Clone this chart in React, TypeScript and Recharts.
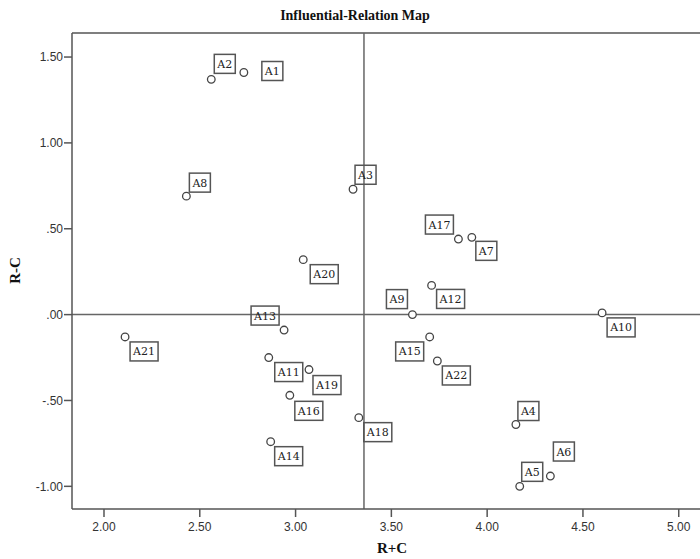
import React from 'react';
import { ScatterChart, Scatter, XAxis, YAxis, ReferenceLine } from 'recharts';

const names = ['A1','A2','A3','A4','A5','A6','A7','A8','A9','A10','A11','A12','A13','A14','A15','A16','A17','A18','A19','A20','A21','A22'];
const rPlusC = [2.73,2.56,3.30,4.15,4.17,4.33,3.92,2.43,3.61,4.60,2.86,3.71,2.94,2.87,3.70,2.97,3.85,3.33,3.07,3.04,2.11,3.74];
const rMinusC = [1.41,1.37,0.73,-0.64,-1.00,-0.94,0.45,0.69,0.00,0.01,-0.25,0.17,-0.09,-0.74,-0.13,-0.47,0.44,-0.60,-0.32,0.32,-0.13,-0.27];

const xTicks = [2, 2.5, 3, 3.5, 4, 4.5, 5];
const yTicks = [-1, -0.5, 0, 0.5, 1, 1.5];
const xDomain = [1.833, 5.111];
const yDomain = [-1.132, 1.64];
const meanX = 3.357;
const meanY = 0;

// label box offsets (style only): left/top of box relative to point
const labelOffsets: Record<string, [number, number]> = {
  A1: [18, -11], A2: [3, -25], A3: [2, -24], A4: [2, -23], A5: [2, -24], A6: [3, -34],
  A7: [4, 4], A8: [3, -23], A9: [-26, -25], A10: [5, 5], A11: [6, 5], A12: [5, 4],
  A13: [-33, -24], A14: [4, 5], A15: [-34, 5], A16: [5, 6], A17: [-33, -24], A18: [5, 5],
  A19: [4, 6], A20: [7, 5], A21: [5, 5], A22: [5, 5],
};

const data = names.map((n, i) => ({ name: n, x: rPlusC[i], y: rMinusC[i] }));

const fmt = (v: number) => {
  const s = Math.abs(v).toFixed(2).replace(/^0/, '');
  return (v < 0 ? '-' : '') + s;
};

const PointShape = (props: any) => {
  const { cx, cy, payload } = props;
  const name = payload.name as string;
  const [dx, dy] = labelOffsets[name] || [5, 5];
  const w = name.length === 2 ? 21 : 28;
  const h = 19;
  return (
    <g>
      <circle cx={cx} cy={cy} r={3.8} fill="#fff" stroke="#444" strokeWidth={1.3} />
      <rect x={cx + dx} y={cy + dy} width={w} height={h} fill="none" stroke="#555" strokeWidth={1.5} />
      <text x={cx + dx + w / 2} y={cy + dy + h / 2 + 4} textAnchor="middle" fontFamily="'DejaVu Serif', 'Liberation Serif', serif" fontSize={11} fill="#222">{name}</text>
    </g>
  );
};

const axisStroke = '#555';
const tickStyle = { fontFamily: "'Liberation Sans', Arial, sans-serif", fontSize: 12, fill: '#333' };

export default function App() {
  return (
    <div style={{ position: 'absolute', left: 0, top: 0, width: 700, height: 559, background: '#fff' }}>
      <ScatterChart width={700} height={559} margin={{ top: 33, right: 0, bottom: 0, left: 8 }}>
        <XAxis type="number" dataKey="x" domain={xDomain} ticks={xTicks} tickFormatter={fmt}
          allowDataOverflow height={50} tickSize={8} tickMargin={5}
          stroke={axisStroke} strokeWidth={1.5} tick={tickStyle} />
        <YAxis type="number" dataKey="y" domain={yDomain} ticks={yTicks} tickFormatter={fmt}
          allowDataOverflow width={64} tickSize={8} tickMargin={1}
          stroke={axisStroke} strokeWidth={1.5} tick={tickStyle} />
        <ReferenceLine y={yDomain[1]} stroke={axisStroke} strokeWidth={1.5} />
        <ReferenceLine x={meanX} stroke="#666" strokeWidth={1.5} />
        <ReferenceLine y={meanY} stroke="#666" strokeWidth={1.5} />
        <Scatter data={data} shape={PointShape} isAnimationActive={false} />
      </ScatterChart>
      <div style={{ position: 'absolute', left: 0, width: 710, top: 8, textAlign: 'center', fontFamily: "'Liberation Serif', 'Times New Roman', serif", fontWeight: 'bold', fontSize: 14, color: '#111' }}>
        Influential-Relation Map
      </div>
      <div style={{ position: 'absolute', left: 342, width: 100, top: 540, textAlign: 'center', fontFamily: "'Liberation Serif', 'Times New Roman', serif", fontWeight: 'bold', fontSize: 15, color: '#111' }}>
        R+C
      </div>
      <div style={{ position: 'absolute', left: -35, width: 100, top: 262, textAlign: 'center', transform: 'rotate(-90deg)', fontFamily: "'Liberation Serif', 'Times New Roman', serif", fontWeight: 'bold', fontSize: 15, color: '#111' }}>
        R-C
      </div>
    </div>
  );
}
